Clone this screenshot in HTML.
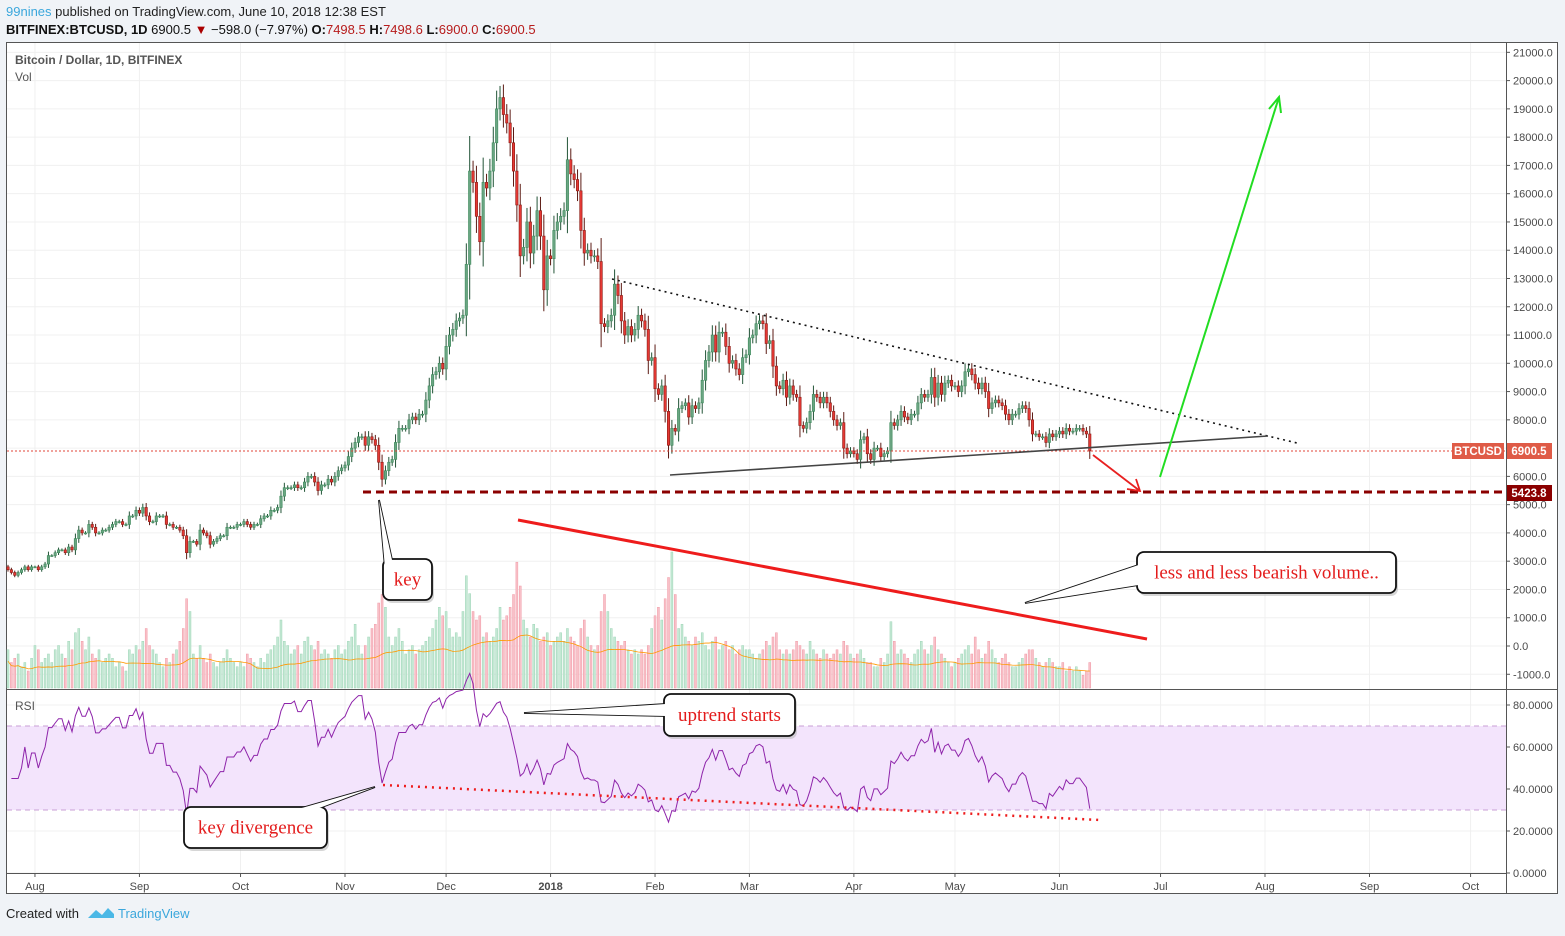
<!DOCTYPE html>
<html><head><meta charset="utf-8">
<style>
html,body{margin:0;padding:0;background:#f0f3f7;}
body{width:1565px;height:931px;overflow:hidden;font-family:"Liberation Sans",sans-serif;}
svg text{font-family:"Liberation Sans",sans-serif;}
svg text.serif{font-family:"Liberation Serif",serif;}
</style></head>
<body>
<svg id="chart" width="1565" height="931" xmlns="http://www.w3.org/2000/svg">
  <text x="6" y="16" font-size="13" fill="#222"><tspan fill="#3ba7dc">99nines</tspan> published on TradingView.com, June 10, 2018 12:38 EST</text>
  <text x="6" y="34" font-size="13" fill="#111"><tspan font-weight="bold">BITFINEX:BTCUSD, 1D</tspan> 6900.5 <tspan fill="#a00">▼</tspan> −598.0 (−7.97%) <tspan font-weight="bold">O:</tspan><tspan fill="#b71c1c">7498.5</tspan> <tspan font-weight="bold">H:</tspan><tspan fill="#b71c1c">7498.6</tspan> <tspan font-weight="bold">L:</tspan><tspan fill="#b71c1c">6900.0</tspan> <tspan font-weight="bold">C:</tspan><tspan fill="#b71c1c">6900.5</tspan></text>
  <rect x="6.5" y="42.5" width="1551" height="851" fill="#fff" stroke="#555" stroke-width="1"/>
  <g id="grid"></g>
  <rect x="7" y="726" width="1499" height="84" fill="#f3e4fc"/>
  <line x1="7" y1="726" x2="1506" y2="726" stroke="#c99fd6" stroke-dasharray="5,4"/>
  <line x1="7" y1="810" x2="1506" y2="810" stroke="#c99fd6" stroke-dasharray="5,4"/>
  <g id="vol"></g>
  <g id="candles"></g>
  <g id="rsi"></g>
  <line x1="7" y1="451" x2="1506" y2="451" stroke="#e0453a" stroke-width="1" stroke-dasharray="2,2"/>
  <line x1="612" y1="279" x2="1297" y2="443" stroke="#111" stroke-width="1.6" stroke-dasharray="2,4"/>
  <line x1="670" y1="475" x2="1268" y2="436" stroke="#444" stroke-width="1.6"/>
  <line x1="363" y1="492" x2="1506" y2="492" stroke="#8b0000" stroke-width="3" stroke-dasharray="8,5"/>
  <g stroke="#e82020" stroke-width="1.8" fill="none">
    <line x1="1093" y1="455" x2="1140" y2="491"/><polyline points="1127,489 1140,491 1136,479"/>
  </g>
  <g stroke="#22dd22" stroke-width="2" fill="none">
    <line x1="1160" y1="477" x2="1279" y2="97"/><polyline points="1269,109 1279,97 1281,113"/>
  </g>
  <line x1="518" y1="520" x2="1147" y2="639" stroke="#ee1c1c" stroke-width="3"/>
  <line x1="383" y1="785" x2="1100" y2="820" stroke="#ee1c1c" stroke-width="2.5" stroke-dasharray="2,5"/>
  <g id="callouts"></g>
  <line x1="1506.5" y1="42" x2="1506.5" y2="894" stroke="#555"/>
  <line x1="7" y1="689.5" x2="1558" y2="689.5" stroke="#555"/>
  <line x1="7" y1="873.5" x2="1506" y2="873.5" stroke="#555"/>
  <g id="axes"></g>
  <text x="15" y="64" font-size="12" font-weight="bold" fill="#555">Bitcoin / Dollar, 1D, BITFINEX</text>
  <text x="15" y="81" font-size="12" fill="#555">Vol</text>
  <text x="15" y="710" font-size="12" fill="#555">RSI</text>
  <rect x="1452" y="443" width="52" height="16" fill="#df5b47"/>
  <text x="1478" y="455" font-size="11.5" font-weight="bold" fill="#fff" text-anchor="middle">BTCUSD</text>
  <rect x="1507" y="443" width="45" height="16" fill="#df5b47"/>
  <text x="1529" y="455" font-size="11.5" font-weight="bold" fill="#fff" text-anchor="middle">6900.5</text>
  <rect x="1507" y="485" width="45" height="16" fill="#8b0000"/>
  <text x="1529" y="497" font-size="11.5" font-weight="bold" fill="#fff" text-anchor="middle">5423.8</text>
  <g>
    <text x="6" y="918" font-size="13" fill="#222">Created with</text>
    <path d="M88 918 l8 -8 l6 5 l6 -7 l6 6 l0 4 z" fill="#4bb8e6"/>
    <text x="118" y="918" font-size="13" fill="#3ba7dc">TradingView</text>
  </g>
</svg>
<script>
const closes = [27,26,25,26,27,28,27,28,
28,27,28,29,32,32,33,34,34,33,35,34,38,41,40,40,43,42,40,40,41,41,42,43,44,44,43,43,46,46,48,
47,49,46,44,44,46,46,46,43,43,42,42,41,39,33,37,37,36,41,40,39,36,37,38,39,39,42,42,42,43,
43,44,43,42,43,43,45,46,46,48,48,49,53,56,56,56,57,56,56,58,60,60,58,55,57,57,59,58,60,62,63,
64,67,70,72,74,74,71,74,73,71,65,59,62,65,66,72,77,77,77,80,81,80,82,82,87,92,96,97,100,98,
106,110,112,115,116,117,135,168,164,152,143,164,162,168,178,190,194,188,185,178,168,156,138,141,150,139,145,154,145,126,138,
137,147,150,152,154,172,167,165,161,147,139,140,138,138,136,114,113,115,117,128,124,115,110,113,110,112,117,115,112,101,102,
91,89,92,83,71,77,76,84,85,86,81,85,84,86,94,101,104,110,104,111,111,106,100,101,98,96,102,103,
109,110,114,115,114,107,108,99,92,91,94,88,92,89,88,78,77,79,83,89,88,86,88,86,83,80,78,79,70,68,69,
68,66,73,74,68,66,70,70,67,68,69,79,78,80,83,81,80,82,82,86,89,88,89,95,88,93,89,93,94,92,
92,90,92,97,98,96,93,91,93,90,84,86,87,86,85,82,80,82,82,84,85,84,80,75,75,74,74,72,75,74,75,
76,75,77,76,76,77,77,76,75,69.005];
const volumes = [45,30,35,40,25,30,20,35,
50,45,30,35,40,30,45,50,40,35,55,45,65,70,55,45,60,40,35,45,30,35,40,35,25,30,25,20,45,40,50,
45,55,70,50,45,40,30,25,35,30,40,45,55,70,105,90,40,35,50,35,30,40,30,25,30,35,45,35,30,25,
30,25,40,35,30,25,35,30,40,45,50,60,80,55,50,40,45,50,40,55,60,50,45,55,40,45,40,35,45,50,40,
45,55,60,75,50,40,50,60,70,75,100,110,95,60,50,60,70,55,40,45,50,40,45,50,55,60,70,80,95,85,
90,70,60,65,60,90,132,111,90,80,85,60,65,55,60,70,95,80,85,95,110,148,120,80,70,60,75,70,55,60,65,
50,55,60,65,55,70,60,55,50,70,80,60,50,45,50,90,110,90,70,60,55,50,55,45,40,45,40,45,40,50,70,
85,95,80,105,130,160,110,70,75,60,55,50,60,55,65,50,45,55,60,45,50,55,45,50,40,45,50,45,
45,40,35,40,45,55,50,60,65,45,40,45,40,45,55,50,45,40,55,45,40,35,45,40,35,40,45,40,55,50,40,
35,40,45,35,30,30,25,25,35,30,40,78,55,40,45,40,35,30,40,45,55,45,40,50,60,45,40,35,30,25,
30,35,40,45,50,40,60,45,35,40,55,45,35,30,35,40,30,25,25,30,35,40,45,45,35,30,25,30,35,30,25,
25,30,20,25,20,25,20,15,20,30];
const priceTicks = [21000,20000,19000,18000,17000,16000,15000,14000,13000,12000,11000,10000,9000,8000,7000,6000,5000,4000,3000,2000,1000,0,-1000];
const rsiTicks = [80,60,40,20,0];
const monthLabels = ["Aug","Sep","Oct","Nov","Dec","2018","Feb","Mar","Apr","May","Jun","Jul","Aug","Sep","Oct"];
const monthDayIndex = [8,39,69,100,130,161,192,220,251,281,312,342,373,404,434];

const NS="http://www.w3.org/2000/svg";
const X0=8, DX=3.37;
function xAt(i){return X0+i*DX;}
function yPrice(p){return 646-p*0.02827;}
function yVol(v){return 688-v*0.85;}
function yRsi(r){return 873-r*2.1;}
function mk(tag,attrs,parent){const e=document.createElementNS(NS,tag);for(const k in attrs)e.setAttribute(k,attrs[k]);parent.appendChild(e);return e;}

const grid=document.getElementById('grid');
priceTicks.forEach(t=>{const l=mk('line',{x1:7,x2:1506,y1:yPrice(t),y2:yPrice(t),stroke:'#f0f0f0'},grid);

});
rsiTicks.forEach(t=>{const l=mk('line',{x1:7,x2:1506,y1:yRsi(t),y2:yRsi(t),stroke:'#f0f0f0'},grid);

});
monthDayIndex.forEach(d=>{const l=mk('line',{x1:xAt(d),x2:xAt(d),y1:43,y2:873,stroke:'#f0f0f0'},grid);

});

const cg=document.getElementById('candles');
const P=closes.map(c=>c*100);
for(let i=0;i<P.length;i++){
  const c=P[i], o=i?P[i-1]:2800, up=c>=o;
  const hi=Math.max(o,c)+Math.abs(c-o)*0.3+c*0.015, lo=Math.min(o,c)-Math.abs(c-o)*0.3-c*0.015;
  const x=xAt(i);
  const w=mk('line',{x1:x,x2:x,y1:yPrice(hi),y2:yPrice(lo),stroke:up?'#225437':'#5b1a13','stroke-width':1},cg);
  
  
  const yt=yPrice(Math.max(o,c)), yb=yPrice(Math.min(o,c));
  const b=mk('rect',{x:x-1.2,y:yt,width:2.4,height:Math.max(1,yb-yt),fill:up?'#6ba583':'#e53935',stroke:up?'#3d8a5b':'#8b1a13','stroke-width':0.6},cg);
  
  
}
const vg=document.getElementById('vol');
for(let i=0;i<volumes.length;i++){
  const up=i===0||P[i]>=P[i-1];
  const r=mk('rect',{x:xAt(i)-1,y:yVol(volumes[i]),width:2,height:688-yVol(volumes[i]),fill:up?'#c4e8d4':'#f8c0c8',stroke:up?'#9fd6b8':'#f19ba7','stroke-width':0.5},vg);
  
  
}
let pts=[];
for(let i=0;i<volumes.length;i++){const s=volumes.slice(Math.max(0,i-19),i+1);const m=s.reduce((a,b)=>a+b,0)/s.length;pts.push(xAt(i)+','+yVol(m*0.7));}
const vma=mk('polyline',{points:pts.join(' '),fill:'none',stroke:'#ff9800','stroke-width':0.8},vg);



const rg=document.getElementById('rsi');
let ag=0,al=0,rp=[];const N=14;
for(let i=1;i<P.length;i++){
  const d=P[i]-P[i-1],g=Math.max(d,0),l=Math.max(-d,0);
  if(i<=N){ag+=g/N;al+=l/N;} else {ag=(ag*(N-1)+g)/N;al=(al*(N-1)+l)/N;}
  const r=al===0?100:100-100/(1+ag/al);
  const rr=i<N?Math.min(75,Math.max(45,r)):r;
  rp.push(xAt(i)+','+yRsi(rr));
}
const rl=mk('polyline',{points:rp.join(' '),fill:'none',stroke:'#8e24aa','stroke-width':1},rg);



const ax=document.getElementById('axes');
priceTicks.forEach(t=>{const y=yPrice(t);
  mk('line',{x1:1506,x2:1510,y1:y,y2:y,stroke:'#555'},ax);
  const tx=mk('text',{x:1513,y:y+4,'font-size':11,fill:'#4a4a4a'},ax);tx.textContent=t.toFixed(1);
  
  });
rsiTicks.forEach(t=>{const y=yRsi(t);
  mk('line',{x1:1506,x2:1510,y1:y,y2:y,stroke:'#555'},ax);
  const tx=mk('text',{x:1513,y:y+4,'font-size':11,fill:'#4a4a4a'},ax);tx.textContent=t.toFixed(4);
  
  });
monthLabels.forEach((m,k)=>{const x=xAt(monthDayIndex[k]);
  mk('line',{x1:x,x2:x,y1:873,y2:877,stroke:'#555'},ax);
  const tx=mk('text',{x:x,y:890,'font-size':11,fill:'#4a4a4a','text-anchor':'middle','font-weight':m==='2018'?'bold':'normal'},ax);tx.textContent=m;
  
  });

const cog=document.getElementById('callouts');
function callout(name,bx,by,bw,bh,tipX,tipY,baseA,baseB,label,fs){
  const g=mk('g',{},cog);
  
  
  mk('rect',{x:bx+2,y:by+3,width:bw,height:bh,rx:7,fill:'#bbb',opacity:0.6},g);
  mk('polygon',{points:`${baseA[0]},${baseA[1]} ${tipX},${tipY} ${baseB[0]},${baseB[1]}`,fill:'#fff',stroke:'#111','stroke-width':1.8},g);
  mk('rect',{x:bx,y:by,width:bw,height:bh,rx:7,fill:'#fff',stroke:'#111','stroke-width':1.8},g);
  mk('polygon',{points:`${baseA[0]},${baseA[1]} ${tipX},${tipY} ${baseB[0]},${baseB[1]}`,fill:'#fff'},g);
  const t=mk('text',{x:bx+bw/2,y:by+bh/2+6,'font-size':fs,fill:'#e31b1b','text-anchor':'middle','class':'serif'},g);
  t.textContent=label;
}
callout('key-callout',383,559,49,41,379,500,[385,568],[392,559.9],'key',19);
callout('volume-callout',1137,552,259,41,1025,603,[1138.5,585],[1138.5,565],'less and less bearish volume..',19);
callout('uptrend-callout',664,694,131,42,524,713,[665.5,716],[665.5,704],'uptrend starts',19);
callout('divergence-callout',184,807,143,41,375,787,[300,808.5],[318,808.5],'key divergence',19);
</script>
</body></html>
